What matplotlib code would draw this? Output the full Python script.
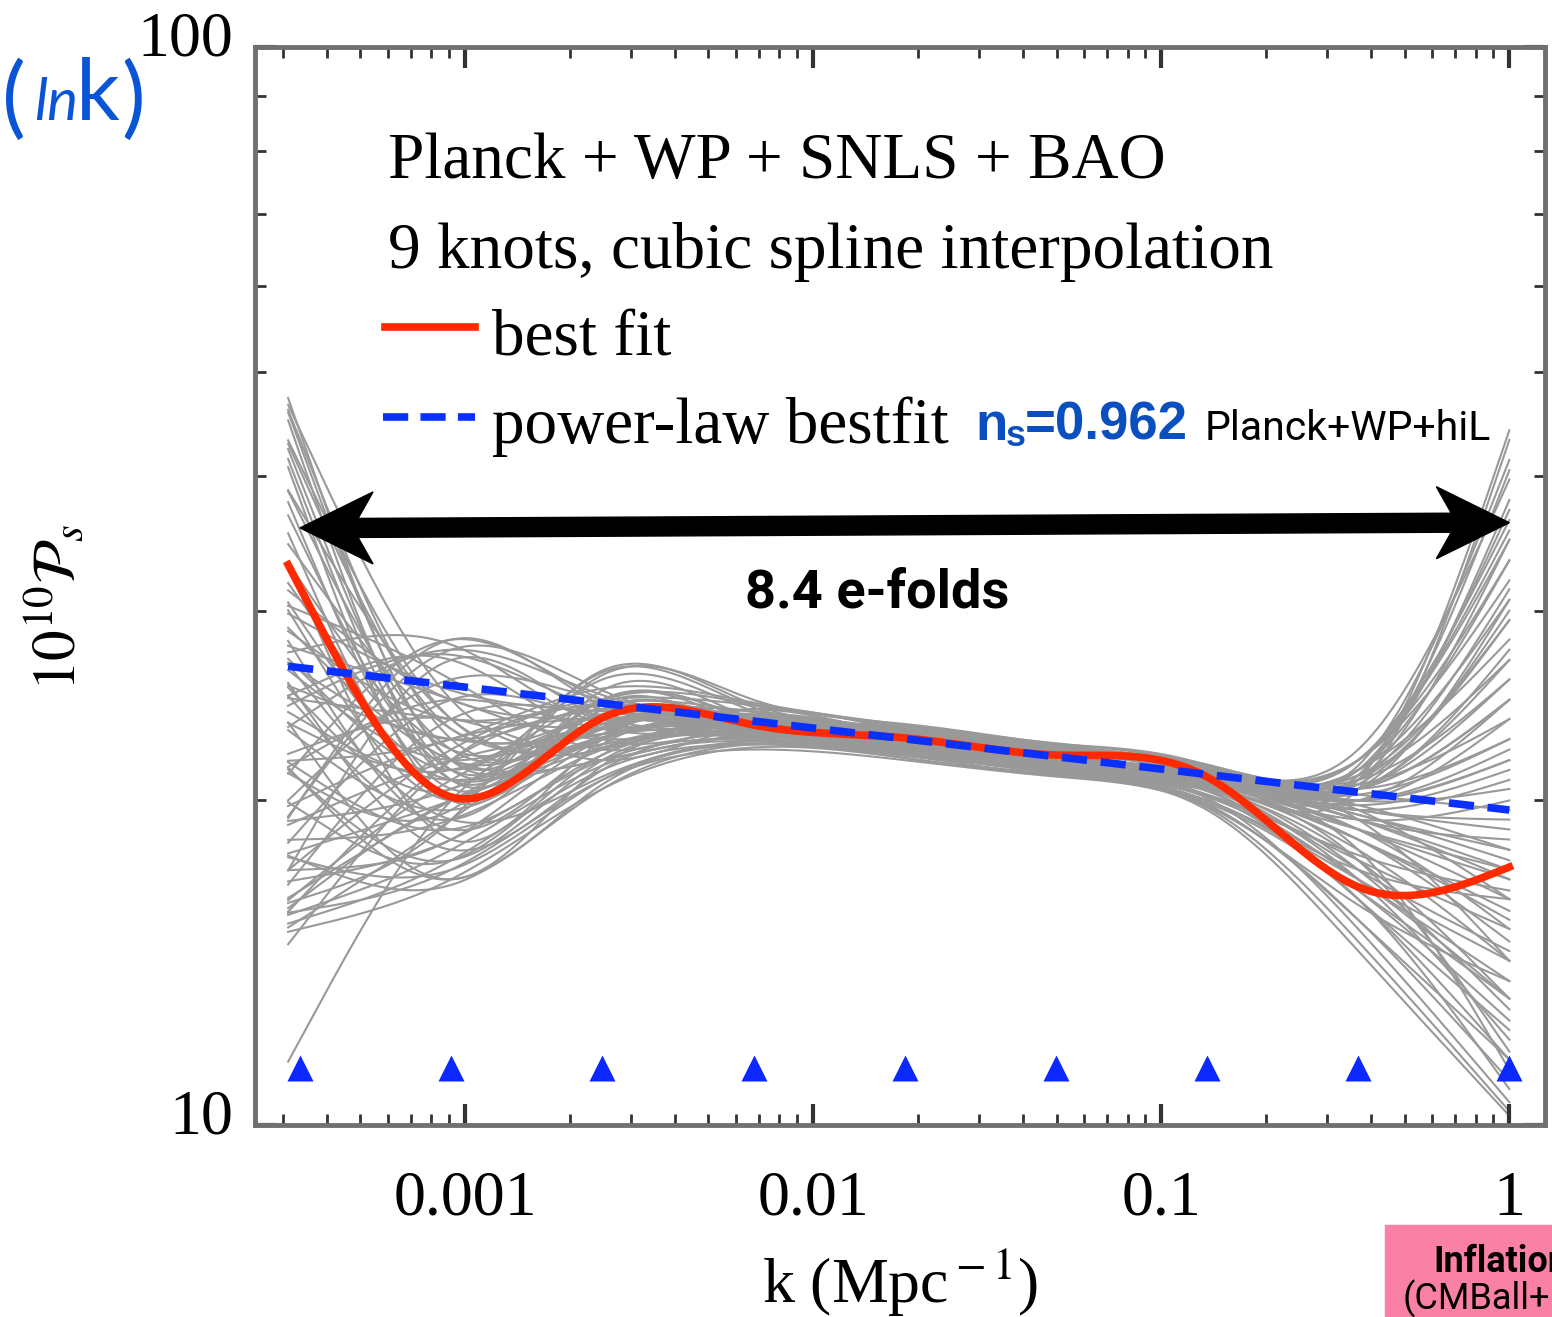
import numpy as np
import matplotlib
matplotlib.use("Agg")
from matplotlib import pyplot as plt
from matplotlib.lines import Line2D
from matplotlib.patches import Polygon, Rectangle
from matplotlib.transforms import ScaledTranslation
from matplotlib.ticker import LogLocator, NullFormatter, FixedLocator, FixedFormatter

W, H = 1552, 1317

plt.rcParams["font.family"] = "Liberation Serif"
plt.rcParams["mathtext.fontset"] = "stix"

# knot positions, ln k = -8 ... 0
KNOT_LNK = [-8, -7, -6, -5, -4, -3, -2, -1, 0]
K_START = 3.1e-4
K_END = 1.0

# best-fit 10^10 P_s at the knots
BEST_FIT = [31.5, 20.15, 23.86, 23.5, 22.86, 22.04, 21.03, 16.63, 17.35]

# power law reference (Planck+WP+highL)
AS_PIVOT = 21.96
NS = 0.962
K_PIVOT = 0.05

# chain samples, 10^10 P_s at the knots
SAMPLES = [
    [43.9, 21.8, 24.8, 23.8, 22.8, 21.8, 20.9, 20.0, 21.8],
    [43.2, 22.8, 23.3, 24.0, 23.05, 22.2, 21.35, 19.2, 18.4],
    [41.85, 20.9, 24.3, 23.3, 22.55, 21.9, 21.1, 20.5, 24.8],
    [40.95, 23.8, 22.8, 24.3, 22.9, 21.8, 20.7, 17.25, 14.5],
    [39.7, 21.35, 23.8, 23.55, 22.7, 21.7, 21.35, 20.9, 29.4],
    [38.0, 20.0, 24.55, 23.05, 22.8, 22.05, 20.5, 16.2, 12.25],
    [36.8, 22.3, 23.3, 23.8, 22.55, 21.55, 20.9, 19.6, 19.2],
    [35.6, 20.5, 24.8, 23.4, 22.3, 21.4, 21.1, 21.8, 33.4],
    [21.8, 28.2, 24.8, 23.8, 23.05, 22.3, 21.35, 20.5, 24.8],
    [20.0, 27.6, 25.3, 23.3, 22.55, 21.8, 20.9, 18.8, 16.9],
    [24.8, 27.3, 24.3, 24.0, 22.8, 21.95, 21.1, 21.35, 30.7],
    [18.0, 27.0, 23.8, 23.55, 22.9, 22.2, 21.25, 20.0, 21.8],
    [27.6, 27.9, 23.55, 24.3, 23.2, 22.4, 21.4, 19.6, 16.2],
    [24.8, 20.5, 26.4, 24.55, 23.3, 22.4, 21.35, 21.8, 36.4],
    [20.9, 19.6, 26.15, 24.8, 23.55, 22.55, 21.55, 20.5, 22.8],
    [29.4, 21.35, 25.9, 24.2, 23.05, 22.3, 21.25, 19.2, 14.2],
    [16.2, 19.2, 26.3, 24.4, 23.4, 22.5, 21.4, 20.9, 25.9],
    [30.7, 24.8, 23.8, 23.55, 22.7, 21.8, 20.95, 20.25, 19.6],
    [28.2, 23.8, 24.55, 23.3, 22.55, 21.9, 20.8, 18.4, 15.5],
    [25.9, 21.8, 24.0, 23.9, 22.95, 22.2, 21.4, 22.3, 39.7],
    [23.8, 20.9, 22.8, 23.7, 22.7, 21.55, 20.5, 17.6, 13.1],
    [21.8, 24.8, 23.3, 23.05, 22.3, 21.35, 20.25, 16.2, 11.5],
    [20.0, 22.8, 23.8, 23.4, 22.85, 22.05, 21.0, 19.8, 18.0],
    [18.4, 19.2, 22.3, 23.3, 22.4, 21.5, 20.7, 19.2, 17.25],
    [16.9, 18.4, 21.8, 22.8, 22.2, 21.35, 20.0, 16.9, 14.2],
    [15.5, 17.6, 21.35, 22.55, 22.05, 21.25, 19.8, 15.5, 11.0],
    [15.2, 16.9, 20.5, 22.4, 21.9, 21.1, 19.6, 14.5, 10.2],
    [17.6, 17.25, 20.9, 22.7, 22.3, 21.4, 20.1, 15.2, 10.5],
    [24.8, 18.0, 21.35, 23.05, 22.4, 21.55, 20.5, 21.35, 28.2],
    [27.0, 18.8, 22.55, 23.55, 22.5, 21.7, 20.9, 19.6, 20.9],
    [22.8, 19.6, 23.05, 24.0, 23.15, 22.3, 21.2, 21.8, 32.0],
    [19.2, 20.5, 23.55, 23.8, 22.75, 21.85, 20.5, 16.9, 12.0],
    [16.2, 21.8, 24.3, 24.2, 23.2, 22.1, 21.05, 21.1, 27.0],
    [33.4, 23.3, 22.55, 23.8, 22.6, 21.65, 20.95, 20.7, 23.8],
    [29.4, 25.3, 24.2, 23.6, 22.65, 22.0, 21.15, 21.8, 34.9],
    [20.9, 17.6, 21.8, 22.9, 22.1, 21.35, 20.2, 17.8, 16.5],
    [16.5, 20.0, 22.9, 23.5, 22.6, 21.75, 20.7, 18.8, 15.2],
    [12.0, 20.0, 23.3, 23.2, 22.4, 21.5, 20.6, 18.4, 15.8],
    [25.3, 22.8, 23.05, 24.3, 23.3, 22.55, 21.55, 21.55, 41.4],
    [23.3, 21.35, 24.8, 24.55, 23.4, 22.3, 21.25, 20.5, 43.2],
    [17.25, 23.8, 24.0, 23.3, 22.5, 21.9, 21.05, 20.0, 22.3],
    [32.0, 22.3, 23.55, 23.7, 23.0, 22.15, 21.35, 21.1, 38.0],
    [15.8, 18.0, 21.55, 22.7, 22.0, 21.3, 20.0, 16.5, 12.5],
    [21.35, 18.8, 22.05, 23.15, 22.45, 21.6, 20.75, 19.4, 17.6],
    [26.4, 20.9, 22.8, 24.0, 23.1, 22.25, 21.3, 20.9, 44.1],
    [17.6, 16.7, 20.5, 22.55, 22.2, 21.35, 20.0, 17.25, 16.2],
    [44.1, 24.8, 22.55, 23.9, 22.9, 22.05, 21.25, 20.5, 30.7],
    [42.75, 21.8, 23.55, 23.5, 22.6, 21.8, 20.9, 18.8, 16.2],
    [40.5, 23.3, 24.05, 23.2, 22.4, 21.7, 21.05, 20.9, 34.9],
    [38.8, 20.9, 24.8, 23.7, 22.8, 21.95, 20.7, 17.25, 12.8],
    [37.2, 23.8, 22.3, 24.0, 23.05, 22.2, 21.35, 20.0, 23.8],
    [34.9, 21.35, 23.9, 23.3, 22.5, 21.4, 20.4, 16.9, 13.6],
    [33.4, 20.0, 25.3, 23.8, 22.9, 22.1, 21.35, 21.1, 40.5],
    [30.7, 21.8, 23.4, 24.0, 23.3, 22.4, 21.5, 20.5, 27.6],
    [28.8, 20.0, 24.3, 23.4, 22.2, 21.35, 20.5, 18.4, 14.8],
    [27.6, 24.8, 22.8, 23.55, 22.75, 21.85, 20.85, 19.2, 16.9],
    [26.4, 22.8, 24.55, 24.15, 23.25, 22.35, 21.4, 21.35, 33.4],
    [25.3, 27.0, 22.8, 23.4, 22.55, 21.7, 20.65, 17.6, 11.7],
    [24.3, 19.2, 23.8, 23.8, 22.8, 21.9, 21.1, 20.7, 30.0],
    [23.8, 27.6, 25.05, 23.7, 22.9, 22.15, 21.3, 20.0, 20.5],
    [22.8, 16.9, 21.55, 23.0, 22.25, 21.4, 20.0, 16.2, 10.8],
    [22.3, 23.8, 21.8, 23.45, 22.65, 21.75, 20.8, 19.6, 18.8],
    [20.5, 25.9, 24.8, 23.9, 23.15, 22.3, 21.4, 21.35, 37.2],
    [19.6, 17.6, 22.05, 22.8, 22.1, 21.2, 19.7, 14.8, 10.3],
    [19.2, 21.8, 23.05, 23.3, 22.45, 21.6, 20.6, 18.0, 14.2],
    [18.8, 24.8, 23.8, 23.05, 22.2, 21.35, 20.5, 18.8, 17.25],
    [18.0, 20.0, 22.4, 23.6, 22.85, 22.0, 20.9, 20.0, 24.8],
    [17.25, 18.4, 22.8, 23.2, 22.35, 21.4, 20.15, 16.9, 13.1],
    [16.5, 20.9, 23.55, 24.05, 23.1, 22.2, 21.25, 20.9, 31.4],
    [15.8, 17.25, 20.9, 22.3, 21.8, 21.05, 19.75, 16.0, 13.6],
    [15.5, 19.2, 23.3, 23.55, 22.6, 21.7, 20.75, 19.2, 20.0],
    [28.2, 21.8, 21.8, 22.9, 22.05, 21.15, 20.25, 17.6, 15.2],
    [21.8, 22.8, 25.4, 24.65, 23.5, 22.6, 21.6, 21.8, 35.6],
    [25.9, 19.2, 21.05, 22.6, 21.9, 21.1, 19.9, 16.5, 13.1],
    [20.0, 28.2, 24.5, 23.45, 22.7, 21.9, 20.95, 20.25, 22.8],
    [17.6, 22.3, 24.8, 24.5, 23.45, 22.5, 21.5, 21.1, 29.4],
    [16.2, 20.0, 21.8, 23.0, 22.4, 21.65, 20.7, 18.0, 11.25],
    [24.8, 23.8, 23.3, 23.1, 22.3, 21.5, 20.8, 20.5, 25.9],
    [31.4, 18.4, 22.8, 23.8, 22.95, 22.2, 21.15, 20.5, 27.0],
    [15.2, 21.8, 24.55, 23.6, 22.7, 21.8, 20.9, 19.8, 21.35],
    [30.0, 25.9, 22.3, 23.6, 22.8, 21.95, 20.95, 19.4, 18.0],
    [20.9, 16.9, 20.7, 22.55, 22.15, 21.3, 19.85, 15.5, 11.5],
]

KNOT_MARK_Y = 11.3
ARROW_Y = (35.8, 36.2)

GRAY = "#999999"
RED = "#ff2a00"
BLUE = "#0a30ff"
TRI_BLUE = "#0a28ff"
LABEL_BLUE = "#0a4fc0"
TAG_BLUE = "#0a55d6"


def natural_spline(xk, yk, xs):
    xk = np.asarray(xk, float)
    yk = np.asarray(yk, float)
    n = len(xk)
    h = np.diff(xk)
    A = np.zeros((n, n))
    r = np.zeros(n)
    A[0, 0] = A[-1, -1] = 1.0
    for i in range(1, n - 1):
        A[i, i - 1] = h[i - 1]
        A[i, i] = 2 * (h[i - 1] + h[i])
        A[i, i + 1] = h[i]
        r[i] = 3 * ((yk[i + 1] - yk[i]) / h[i] - (yk[i] - yk[i - 1]) / h[i - 1])
    c = np.linalg.solve(A, r)
    b = (yk[1:] - yk[:-1]) / h - h * (2 * c[:-1] + c[1:]) / 3
    d = (c[1:] - c[:-1]) / (3 * h)
    idx = np.clip(np.searchsorted(xk, xs) - 1, 0, n - 2)
    dx = xs - xk[idx]
    return yk[idx] + b[idx] * dx + c[idx] * dx ** 2 + d[idx] * dx ** 3


def spectrum(knots, lnk):
    return np.exp(natural_spline(KNOT_LNK, np.log(knots), lnk))


fig = plt.figure(figsize=(W / 100, H / 100), dpi=100)
ax = fig.add_axes([255 / W, (H - 1125) / H, 1290 / W, 1078 / H])
ax.set_xscale("log")
ax.set_yscale("log")
ax.set_xlim(2.49e-4, 1.266)
ax.set_ylim(10, 100)

lnk = np.linspace(np.log(K_START), np.log(K_END), 500)
k = np.exp(lnk)

for row in SAMPLES:
    ax.plot(k, spectrum(row, lnk), color=GRAY, lw=1.5, zorder=1)

ax.plot(k, spectrum(BEST_FIT, lnk), color=RED, lw=5.5, zorder=3)
ax.plot(k, AS_PIVOT * (k / K_PIVOT) ** (NS - 1), color=BLUE, lw=5.5,
        dashes=(3.3, 1.8), zorder=4)

knot_k = np.exp(KNOT_LNK)
ax.plot(knot_k, [KNOT_MARK_Y] * len(knot_k), "^", ms=19, color=TRI_BLUE,
        mec="none", zorder=5, clip_on=False)

# axes styling
for sp in ax.spines.values():
    sp.set_color("#707070")
    sp.set_linewidth(3.5)

ax.xaxis.set_major_locator(FixedLocator([1e-3, 1e-2, 1e-1, 1]))
ax.xaxis.set_major_formatter(FixedFormatter(["0.001", "0.01", "0.1", "1"]))
ax.xaxis.set_minor_locator(LogLocator(base=10, subs=np.arange(2, 10), numticks=20))
ax.xaxis.set_minor_formatter(NullFormatter())
ax.yaxis.set_major_locator(FixedLocator([10, 100]))
ax.yaxis.set_major_formatter(FixedFormatter(["10", "100"]))
ax.yaxis.set_minor_locator(LogLocator(base=10, subs=np.arange(2, 10), numticks=20))
ax.yaxis.set_minor_formatter(NullFormatter())

ax.tick_params(which="both", direction="in", top=True, right=True,
               colors="#333333", labelcolor="black", labelsize=46)
ax.tick_params(which="major", length=15, width=3)
ax.tick_params(which="minor", length=8, width=2)
ax.tick_params(axis="x", pad=33)
ax.tick_params(axis="y", pad=16)

shift = ScaledTranslation(0, 0.14, fig.dpi_scale_trans)
for lbl in ax.get_yticklabels():
    lbl.set_transform(lbl.get_transform() + shift)

ax.set_xlabel(r"k (Mpc$^{\rm -1}$)", fontsize=46, labelpad=14)
ax.set_ylabel(r"$10^{10}\mathcal{P}_s$", fontsize=44)
ax.yaxis.set_label_coords(-0.13, 0.48)


def fx(px):
    return px / W


def fy(py):
    return 1 - py / H


# legend block
fig.text(fx(388), fy(178), "Planck + WP + SNLS + BAO", fontsize=47, va="baseline")
fig.text(fx(388), fy(268), "9 knots, cubic spline interpolation", fontsize=47, va="baseline")
fig.text(fx(492), fy(355), "best fit", fontsize=47, va="baseline")
fig.text(fx(492), fy(443), "power-law bestfit", fontsize=47, va="baseline")
fig.add_artist(Line2D([fx(385), fx(475)], [fy(327), fy(327)], color=RED, lw=5.5,
                      transform=fig.transFigure))
fig.add_artist(Line2D([fx(383), fx(475)], [fy(417), fy(417)], color=BLUE, lw=5.5,
                      dashes=(3.3, 1.6), transform=fig.transFigure))

fig.text(fx(975), fy(440), "n", fontsize=38, fontweight="bold", color=LABEL_BLUE,
         family="Liberation Sans", va="baseline")
fig.text(fx(1006), fy(446), "s", fontsize=26, fontweight="bold", color=LABEL_BLUE,
         family="Liberation Sans", va="baseline")
fig.text(fx(1025), fy(440), "=0.962", fontsize=38, fontweight="bold", color=LABEL_BLUE,
         family="Liberation Sans", va="baseline")
fig.text(fx(1205), fy(440), "Planck+WP+hiL", fontsize=29.5, family="Roboto",
         va="baseline")

# double arrow spanning the knots
to_ax = ax.transAxes.inverted()
lx, ly = to_ax.transform(ax.transData.transform((knot_k[0], ARROW_Y[0])))
rx, ry = to_ax.transform(ax.transData.transform((knot_k[-1], ARROW_Y[1])))
ux, uy = 1 / 1290, 1 / 1078
hl, hw, nt, sh = 73 * ux, 36 * uy, 58 * ux, 9.5 * uy
verts = [
    (lx, ly), (lx + hl, ly + hw), (lx + nt, ly + sh),
    (rx - nt, ry + sh), (rx - hl, ry + hw), (rx, ry),
    (rx - hl, ry - hw), (rx - nt, ry - sh),
    (lx + nt, ly - sh), (lx + hl, ly - hw),
]
ax.add_patch(Polygon(verts, closed=True, color="black", transform=ax.transAxes,
                     zorder=6, clip_on=False))
fig.text(fx(877), fy(607), "8.4 e-folds", fontsize=39, fontweight="bold",
         family="Roboto", ha="center", va="baseline")

# (ln k) axis tag
fig.text(fx(2), fy(127), "(", fontsize=64, color=TAG_BLUE, family="Lato", va="baseline")
fig.text(fx(34), fy(120), "ln", fontsize=42, color=TAG_BLUE, family="Lato",
         style="italic", va="baseline")
fig.text(fx(76), fy(120), "k", fontsize=62, color=TAG_BLUE, family="Lato", va="baseline")
fig.text(fx(121), fy(127), ")", fontsize=64, color=TAG_BLUE, family="Lato", va="baseline")

# corner tag
fig.add_artist(Rectangle((fx(1385), 0), 1 - fx(1385), fy(1225), color="#fb80a6",
                         transform=fig.transFigure, zorder=0))
fig.text(fx(1433), fy(1272), "Inflation", fontsize=26, fontweight="bold",
         family="Roboto", va="baseline")
fig.text(fx(1403), fy(1309), "(CMBall+LSS)", fontsize=26, family="Roboto",
         va="baseline")

fig.savefig("out.png", dpi=100)
